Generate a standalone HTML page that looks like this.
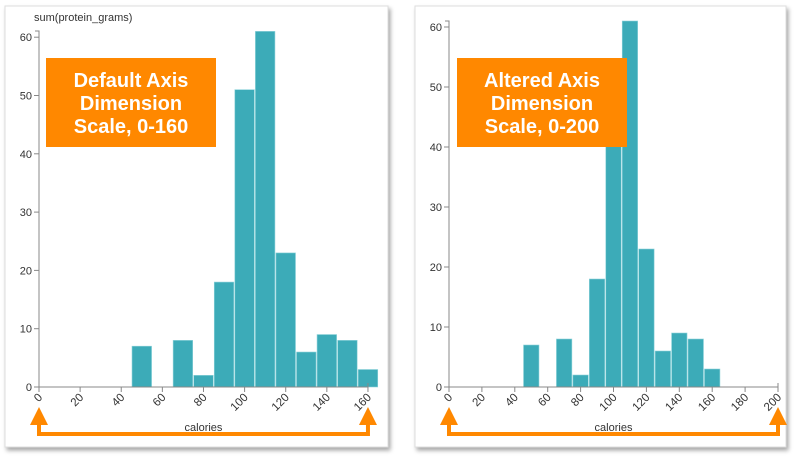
<!DOCTYPE html>
<html><head><meta charset="utf-8"><style>
body{margin:0;background:#fff;width:794px;height:460px;overflow:hidden;font-family:"Liberation Sans",sans-serif}
</style></head><body>
<svg id="s" width="794" height="460" xmlns="http://www.w3.org/2000/svg" font-family="Liberation Sans, sans-serif">
<defs><filter id="sh" x="-5%" y="-5%" width="110%" height="110%"><feDropShadow dx="2" dy="3" stdDeviation="2" flood-color="#000" flood-opacity="0.35"/></filter></defs>
<rect x="5" y="6" width="383" height="441" fill="#fff" stroke="#ddd" filter="url(#sh)"/>
<rect x="415" y="6" width="371" height="441" fill="#fff" stroke="#ddd" filter="url(#sh)"/>
<g id="g"></g>
</svg>
<script>
var g=document.getElementById('g'),h='';
var vals=[[50,7],[70,8],[80,2],[90,18],[100,51],[110,61],[120,23],[130,6],[140,9],[150,8],[160,3]];
function chart(x0,xmax,pxu,ypx,ticks,ytop,label){
 var y0=387;
 vals.forEach(function(v){var a=x0+(v[0]-5)*pxu,b=x0+(v[0]+5)*pxu,t=y0-v[1]*ypx;
  h+='<rect x="'+(a+0.5)+'" y="'+t+'" width="'+(b-a-1)+'" height="'+(y0-t)+'" fill="#3cabb8" stroke="#8fd3da" stroke-width="0.6"/>';});
 h+='<path d="M'+(x0-4)+' '+ytop+'H'+x0+'V'+y0+'H'+(x0+xmax*pxu)+'V'+(y0-4)+'" fill="none" stroke="#888" stroke-width="1"/>';
 for(var i=0;i<=60;i+=10){var y=y0-i*ypx;h+='<line x1="'+(x0-5)+'" x2="'+x0+'" y1="'+y+'" y2="'+y+'" stroke="#888"/><text x="'+(x0-7)+'" y="'+(y+4)+'" font-size="11" text-anchor="end" fill="#333">'+i+'</text>';}
 for(var i=0;i<=xmax;i+=20){var x=x0+i*pxu;h+='<line x1="'+x+'" x2="'+x+'" y1="'+y0+'" y2="'+(y0+5)+'" stroke="#888"/><text transform="translate('+(x+4)+','+(y0+11)+') rotate(-45)" font-size="11.5" text-anchor="end" fill="#333">'+i+'</text>';}
 var xe=x0+xmax*pxu;
 h+='<text x="'+((x0+xe)/2)+'" y="431" font-size="11" text-anchor="middle" fill="#333">calories</text>';
 h+='<path d="M'+x0+' 422V434H'+xe+'V422" fill="none" stroke="#ff8800" stroke-width="4"/>';
 [x0,xe].forEach(function(x){h+='<polygon points="'+(x-9)+',425 '+(x+9)+',425 '+x+',407" fill="#ff8800"/>';});
 if(label)h+='<text x="'+(x0-5)+'" y="21" font-size="11" fill="#333">'+label+'</text>';
}
chart(39,160,2.056,5.83,0,31,'sum(protein_grams)');
chart(449,200,1.645,6,0,21,'');
function box(x,t){h+='<rect x="'+x+'" y="58" width="170" height="89" fill="#ff8800"/>';
 t.forEach(function(s,i){h+='<text x="'+(x+85)+'" y="'+(87+i*23)+'" font-size="20" font-weight="bold" fill="#fff" text-anchor="middle">'+s+'</text>';});}
box(46,['Default Axis','Dimension','Scale, 0-160']);
box(457,['Altered Axis','Dimension','Scale, 0-200']);
g.innerHTML=h;
</script>
</body></html>
